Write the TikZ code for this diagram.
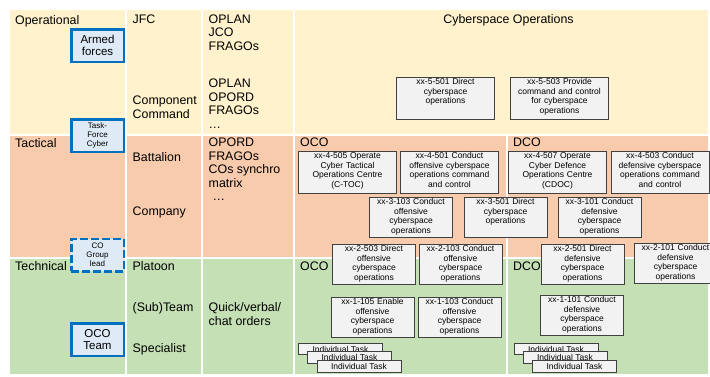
\documentclass[tikz,border=0pt]{standalone}
\usepackage{fontspec}
\setmainfont{Liberation Sans}
\definecolor{opband}{HTML}{FFF2CC}
\definecolor{tacband}{HTML}{F8CBAD}
\definecolor{techband}{HTML}{C5E0B4}
\definecolor{unitblue}{HTML}{0070C0}
\definecolor{unitfill}{HTML}{DEEBF7}
\definecolor{taskfill}{HTML}{F2F2F2}
\definecolor{taskline}{HTML}{404040}
\begin{document}
\begin{tikzpicture}[x=1pt,y=-1pt,
    lbl/.style={anchor=north west,inner sep=0,align=left,font=\fontsize{12.4}{13.5}\selectfont},
    unit/.style={draw=unitblue,fill=unitfill,line width=2.5pt,minimum width=52.5,minimum height=32.5,inner sep=0,align=center,font=\fontsize{11.5}{12.5}\selectfont},
    unitsm/.style={unit,font=\fontsize{8}{9}\selectfont},
    task/.style={draw=taskline,fill=taskfill,line width=0.8pt,anchor=north,inner sep=1.5pt,text width=95pt,align=center,text height=6pt,text depth=33pt,font=\fontsize{8.5}{9.5}\selectfont},
    tasksm/.style={task,text width=80pt,text depth=31pt},
    indiv/.style={draw=taskline,fill=taskfill,line width=0.8pt,minimum width=84,minimum height=11.5,inner sep=0,font=\fontsize{8.5}{9}\selectfont}]
    \useasboundingbox (0,0) rectangle (710,376);
    \clip (0,0) rectangle (710,376);

    % 三个层级的底色
    \fill[opband] (10,10) rectangle (708,135);
    \fill[tacband] (10,135) rectangle (708,258);
    \fill[techband] (10,258) rectangle (708,374);
    \draw[white,line width=1.2pt] (126,10) -- (126,374) (202,10) -- (202,374) (294,10) -- (294,374)
        (507,135) -- (507,374) (10,135) -- (708,135) (10,258) -- (708,258);

    % 左侧各列文字
    \node[lbl] (operational) at (15,15) {Operational};
    \node[lbl] (tactical) at (15,138) {Tactical};
    \node[lbl] (technical) at (15,261.7) {Technical};
    \node[lbl] (jfc) at (132.5,15) {JFC};
    \node[lbl] (compcmd) at (132.5,96) {Component\\Command};
    \node[lbl] (battalion) at (132.5,152) {Battalion};
    \node[lbl] (company) at (132.5,207) {Company};
    \node[lbl] (platoon) at (132.5,261.7) {Platoon};
    \node[lbl] (subteam) at (132.5,302.5) {(Sub)Team};
    \node[lbl] (specialist) at (132.5,343) {Specialist};
    \node[lbl] (jfcorders) at (208.5,14.5) {OPLAN\\JCO\\FRAGOs};
    \node[lbl] (cmdorders) at (208.5,79) {OPLAN\\OPORD\\FRAGOs\\…};
    \node[lbl] (batorders) at (208.5,138) {OPORD\\FRAGOs\\COs synchro\\matrix\\\hspace*{4pt}…};
    \node[lbl] (quickorders) at (208.5,302.5) {Quick/verbal/\\chat orders};

    % 蓝色单位框
    \node[unit] (armed) at (97.5,45.5) {Armed\\forces};
    \node[unitsm] (tfcyber) at (97.5,135.5) {Task-\\Force\\Cyber};
    \node[unitsm,dash pattern=on 8pt off 3pt] (cogroup) at (97.5,255) {CO\\Group\\lead};
    \node[unit] (ocoteam) at (97.5,339.5) {OCO\\Team};

    % 网络空间作战任务
    \node[lbl,anchor=north] (cyberops) at (508.5,14.5) {Cyberspace Operations};
    \node[lbl] (ocotac) at (300,138) {OCO};
    \node[lbl] (dcotac) at (513,138) {DCO};
    \node[lbl] (ocotech) at (300,262) {OCO};
    \node[lbl] (dcotech) at (513,262) {DCO};

    \node[task] (t5a) at (445.5,77) {xx-5-501 Direct\\cyberspace\\operations};
    \node[task] (t5b) at (559.5,77) {xx-5-503 Provide\\command and control\\for cyberspace\\operations};
    \node[task] (t4a) at (347.5,151) {xx-4-505 Operate\\Cyber Tactical\\Operations Centre\\(C-TOC)};
    \node[task] (t4b) at (449.5,151) {xx-4-501 Conduct\\offensive cyberspace\\operations command\\and control};
    \node[task] (t4c) at (557.5,151) {xx-4-507 Operate\\Cyber Defence\\Operations Centre\\(CDOC)};
    \node[task] (t4d) at (660,151) {xx-4-503 Conduct\\defensive cyberspace\\operations command\\and control};
    \node[tasksm] (t3a) at (411,197) {xx-3-103 Conduct\\offensive\\cyberspace\\operations};
    \node[tasksm] (t3b) at (505.5,197) {xx-3-501 Direct\\cyberspace\\operations};
    \node[tasksm] (t3c) at (599.5,197) {xx-3-101 Conduct\\defensive\\cyberspace\\operations};
    \node[tasksm] (t2a) at (374,244) {xx-2-503 Direct\\offensive\\cyberspace\\operations};
    \node[tasksm] (t2b) at (460.5,244) {xx-2-103 Conduct\\offensive\\cyberspace\\operations};
    \node[tasksm] (t2c) at (582.5,244) {xx-2-501 Direct\\defensive\\cyberspace\\operations};
    \node[tasksm] (t2d) at (675.5,243) {xx-2-101 Conduct\\defensive\\cyberspace\\operations};
    \node[tasksm] (t1a) at (372.5,297) {xx-1-105 Enable\\offensive\\cyberspace\\operations};
    \node[tasksm] (t1b) at (459.5,297) {xx-1-103 Conduct\\offensive\\cyberspace\\operations};
    \node[tasksm] (t1c) at (582,295) {xx-1-101 Conduct\\defensive\\cyberspace\\operations};

    % 个人任务
    \node[indiv] (ocoind1) at (340.5,349) {Individual Task};
    \node[indiv] (ocoind2) at (349.5,357.5) {Individual Task};
    \node[indiv] (ocoind3) at (359,366.5) {Individual Task};
    \node[indiv] (dcoind1) at (556,349) {Individual Task};
    \node[indiv] (dcoind2) at (565,357.5) {Individual Task};
    \node[indiv] (dcoind3) at (574.5,366.5) {Individual Task};
\end{tikzpicture}
\end{document}
